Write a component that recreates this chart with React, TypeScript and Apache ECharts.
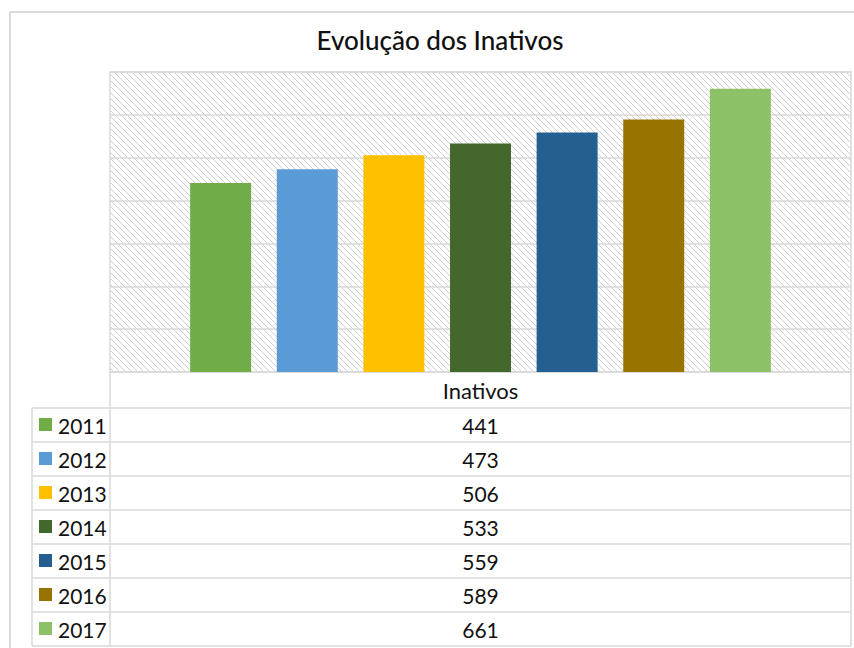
import React, { useEffect, useRef } from "react";
import * as echarts from "echarts";

const title = "Evolução dos Inativos";
const category = ["Inativos"];
const years = ["2011", "2012", "2013", "2014", "2015", "2016", "2017"];
const values = [441, 473, 506, 533, 559, 589, 661];
const colors = ["#70AD47", "#5B9BD5", "#FFC000", "#43682B", "#255E91", "#997300", "#8CC168"];
const yMin = 0;
const yMax = 700;
const yInterval = 100;

const FONT = "Lato, 'Open Sans', sans-serif";
const LINE = "#d9d9d9";

export default function App() {
  const ref = useRef<HTMLDivElement>(null);
  useEffect(() => {
    document.body.style.margin = "0";
    const chart = echarts.init(ref.current!, undefined, { renderer: "svg" });

    const tile = document.createElement("canvas");
    tile.width = 6;
    tile.height = 6;
    const ctx = tile.getContext("2d")!;
    ctx.fillStyle = "#ffffff";
    ctx.fillRect(0, 0, 6, 6);
    ctx.strokeStyle = "#cfcfcf";
    ctx.lineWidth = 1;
    ctx.beginPath();
    ctx.moveTo(-1, -1);
    ctx.lineTo(7, 7);
    ctx.moveTo(-7, -1);
    ctx.lineTo(1, 7);
    ctx.moveTo(5, -1);
    ctx.lineTo(13, 7);
    ctx.stroke();

    const gridLeft = 110;
    const gridRight = 851;
    const gridTop = 72;
    const gridBottom = 372;
    const tableLeft = 32;
    const rowTop = 408;
    const rowH = 34;

    const graphics: any[] = [];
    graphics.push({ type: "line", shape: { x1: 10, y1: 12, x2: 10, y2: 660 }, style: { stroke: LINE, lineWidth: 2 } });
    graphics.push({ type: "line", shape: { x1: 10, y1: 12, x2: 860, y2: 12 }, style: { stroke: LINE, lineWidth: 2 } });
    graphics.push({
      type: "text",
      x: 440,
      y: 40,
      style: { text: title, fill: "#111111", font: `500 26px ${FONT}`, align: "center", verticalAlign: "middle" },
    });
    for (let i = 0; i <= years.length; i++) {
      const y = rowTop + i * rowH;
      graphics.push({ type: "line", shape: { x1: tableLeft, y1: y, x2: gridRight, y2: y }, style: { stroke: LINE, lineWidth: 1.5 } });
    }
    graphics.push({ type: "line", shape: { x1: tableLeft, y1: rowTop, x2: tableLeft, y2: rowTop + years.length * rowH }, style: { stroke: LINE, lineWidth: 1.5 } });
    graphics.push({ type: "line", shape: { x1: gridLeft, y1: gridBottom, x2: gridLeft, y2: rowTop + years.length * rowH }, style: { stroke: LINE, lineWidth: 1.5 } });
    graphics.push({ type: "line", shape: { x1: gridRight, y1: gridBottom, x2: gridRight, y2: rowTop + years.length * rowH }, style: { stroke: LINE, lineWidth: 1.5 } });
    years.forEach((yr, i) => {
      const cy = rowTop + i * rowH + rowH / 2;
      graphics.push({ type: "rect", shape: { x: 39, y: cy - 7, width: 13, height: 13 }, style: { fill: colors[i] } });
      graphics.push({
        type: "text",
        x: 58,
        y: cy,
        style: { text: yr, fill: "#111111", font: `21px ${FONT}`, align: "left", verticalAlign: "middle" },
      });
      graphics.push({
        type: "text",
        x: (gridLeft + gridRight) / 2,
        y: cy,
        style: { text: String(values[i]), fill: "#111111", font: `21px ${FONT}`, align: "center", verticalAlign: "middle" },
      });
    });

    chart.setOption({
      animation: false,
      backgroundColor: "#ffffff",
      grid: {
        left: gridLeft,
        right: 854 - gridRight,
        top: gridTop,
        bottom: 648 - gridBottom,
        show: true,
        backgroundColor: { image: tile, repeat: "repeat" },
        borderColor: LINE,
        borderWidth: 1.5,
      },
      xAxis: {
        type: "category",
        data: category,
        axisLine: { show: false },
        axisTick: { show: false },
        axisLabel: { color: "#111111", fontSize: 22, fontFamily: FONT, margin: 7 },
      },
      yAxis: {
        type: "value",
        min: yMin,
        max: yMax,
        interval: yInterval,
        axisLabel: { show: false },
        axisLine: { show: false },
        axisTick: { show: false },
        splitLine: { lineStyle: { color: LINE, width: 1.5 } },
      },
      series: years.map((yr, i) => ({
        type: "bar",
        name: yr,
        data: [values[i]],
        barWidth: 61,
        barGap: "42%",
        itemStyle: { color: colors[i] },
      })),
      graphic: graphics,
    });
    return () => chart.dispose();
  }, []);
  return <div ref={ref} style={{ width: 854, height: 648 }} />;
}
